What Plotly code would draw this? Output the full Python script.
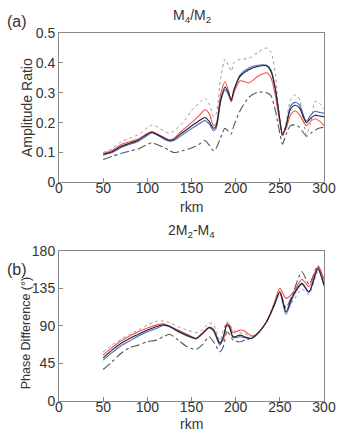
import plotly.graph_objects as go

# ---------- Data: panel (a) M4/M2 amplitude ratio ----------
rkm_a = [50, 60, 70, 80, 90, 100, 105, 110, 120, 125, 130, 140, 150, 160, 165, 170, 175, 178,
         183, 188, 192, 195, 198, 205, 215, 225, 235, 240, 245, 250, 253, 257, 262, 267, 272,
         280, 285, 290, 295, 300]
black_a = [0.094, 0.103, 0.120, 0.131, 0.142, 0.161, 0.168, 0.162, 0.147, 0.141, 0.144, 0.167,
           0.189, 0.209, 0.217, 0.204, 0.181, 0.189, 0.276, 0.319, 0.299, 0.276, 0.310, 0.355,
           0.377, 0.388, 0.390, 0.371, 0.310, 0.209, 0.159, 0.187, 0.245, 0.258, 0.250, 0.200,
           0.215, 0.225, 0.222, 0.220]
blue_a = [0.091, 0.100, 0.116, 0.127, 0.138, 0.157, 0.166, 0.160, 0.143, 0.138, 0.140, 0.160,
          0.180, 0.199, 0.207, 0.196, 0.173, 0.182, 0.270, 0.310, 0.292, 0.270, 0.305, 0.360,
          0.383, 0.392, 0.392, 0.376, 0.315, 0.212, 0.160, 0.190, 0.254, 0.268, 0.260, 0.205,
          0.225, 0.238, 0.234, 0.232]
red_a = [0.097, 0.107, 0.126, 0.136, 0.146, 0.164, 0.170, 0.164, 0.149, 0.142, 0.147, 0.175,
         0.200, 0.228, 0.243, 0.230, 0.190, 0.196, 0.295, 0.337, 0.305, 0.272, 0.300, 0.340,
         0.333, 0.355, 0.367, 0.350, 0.290, 0.200, 0.165, 0.180, 0.225, 0.239, 0.228, 0.190,
         0.205, 0.213, 0.205, 0.190]
dotted_a = [0.100, 0.113, 0.135, 0.148, 0.160, 0.183, 0.192, 0.188, 0.170, 0.165, 0.172, 0.200,
            0.240, 0.270, 0.282, 0.262, 0.220, 0.230, 0.350, 0.413, 0.390, 0.372, 0.400, 0.412,
            0.415, 0.435, 0.450, 0.435, 0.360, 0.200, 0.150, 0.200, 0.275, 0.293, 0.280, 0.160,
            0.200, 0.272, 0.265, 0.245]
dashdot_a = [0.077, 0.087, 0.097, 0.105, 0.112, 0.127, 0.133, 0.128, 0.115, 0.107, 0.100, 0.106,
             0.115, 0.130, 0.140, 0.125, 0.106, 0.115, 0.150, 0.181, 0.170, 0.162, 0.190, 0.240,
             0.285, 0.302, 0.300, 0.290, 0.240, 0.164, 0.128, 0.160, 0.190, 0.192, 0.185, 0.155,
             0.165, 0.175, 0.182, 0.185]

# ---------- Data: panel (b) 2M2-M4 phase difference ----------
rkm_b = [50, 60, 70, 80, 90, 100, 110, 118, 125, 135, 145, 155, 162, 170, 175, 182, 186, 190,
         193, 197, 205, 210, 218, 225, 235, 243, 250, 257, 265, 275, 283, 293, 300]
black_b = [51.7, 61, 69, 75, 80, 85, 89, 91.5, 89.5, 83.6, 78.8, 75, 81, 88, 85, 69, 77, 91,
           89, 77, 79, 77, 75, 81, 95, 113, 131, 107, 127, 141, 131, 159, 139]
blue_b = [49, 58, 66, 72, 78, 83, 87, 90.5, 89, 83, 78, 74.5, 80, 88, 84, 67, 75, 91,
          88, 76, 77, 76, 75, 81, 95, 113, 130, 104, 125, 140, 130, 158, 138]
red_b = [55, 64, 72, 78, 83, 87.5, 91, 92.5, 90, 85, 80, 75, 80, 88.5, 86, 70, 73, 93,
         91, 82, 85, 84, 78, 81, 95, 115, 135, 123, 130, 146, 137, 161, 146]
dotted_b = [59, 67, 74, 80, 85, 91, 95.5, 96, 94, 89, 85, 82, 85, 93.5, 91, 72, 85, 95,
            92, 85, 82, 81, 77, 81, 95, 113, 128, 110, 120, 134, 128, 155, 142]
dashdot_b = [37.8, 47, 57, 64, 67, 71, 73, 77, 80, 73, 65, 62, 67, 77, 71, 59, 65, 83,
             80, 73, 71, 73, 75, 81, 95, 115, 130, 112, 130, 155, 140, 162, 145]

x_ticks = [0, 50, 100, 150, 200, 250, 300]
y_ticks_a = [0, 0.1, 0.2, 0.3, 0.4, 0.5]
y_ticks_b = [0, 45, 90, 135, 180]

FONT = "Liberation Sans, Arial, sans-serif"
TXT = "#333333"
FRAME = "#8a8a8a"

fig = go.Figure()

def add_set(x, dotted, dashdot, blue, red, black, xa, ya):
    specs = [
        (dotted, dict(color="#999999", width=1, dash="dot")),
        (dashdot, dict(color="#555555", width=1.1, dash="dashdot")),
        (blue, dict(color="#4a62c8", width=1.1)),
        (red, dict(color="#f05050", width=1.1)),
        (black, dict(color="#222222", width=1.1)),
    ]
    for y, line in specs:
        fig.add_trace(go.Scatter(x=x, y=y, mode="lines",
                                 line=dict(shape="spline", smoothing=0.7, **line),
                                 xaxis=xa, yaxis=ya, showlegend=False, hoverinfo="skip"))

add_set(rkm_a, dotted_a, dashdot_a, blue_a, red_a, black_a, "x", "y")
add_set(rkm_b, dotted_b, dashdot_b, blue_b, red_b, black_b, "x2", "y2")

axis_common = dict(showline=True, mirror=True, linecolor=FRAME, linewidth=1,
                   ticks="inside", ticklen=4, tickcolor=FRAME, showgrid=False, zeroline=False,
                   tickfont=dict(family=FONT, size=14, color=TXT))

def ann(text, x, y, size, angle=0, xanchor="center"):
    return dict(text=text, x=x, y=y, xref="paper", yref="paper", xanchor=xanchor,
                yanchor="middle", showarrow=False, textangle=angle,
                font=dict(family=FONT, size=size, color=TXT))

fig.update_layout(
    width=348, height=435,
    margin=dict(l=59, r=13, t=33, b=34),
    paper_bgcolor="white", plot_bgcolor="white",
    font=dict(family=FONT, color=TXT),
    xaxis=dict(domain=[0, 1], range=[0, 300], tickvals=x_ticks, anchor="y",
               ticklabelstandoff=-7, **axis_common),
    yaxis=dict(domain=[0.594, 1], range=[0, 0.5], tickvals=y_ticks_a,
               ticktext=["0", "0.1", "0.2", "0.3", "0.4", "0.5"], anchor="x", **axis_common),
    xaxis2=dict(domain=[0, 1], range=[0, 300], tickvals=x_ticks, anchor="y2",
                ticklabelstandoff=-7, **axis_common),
    yaxis2=dict(domain=[0, 0.408], range=[0, 180], tickvals=y_ticks_b, anchor="x2", **axis_common),
    annotations=[
        ann("(a)", -0.205, 1.031, 16, xanchor="left"),
        ann("M<sub>4</sub>/M<sub>2</sub>", 0.5, 1.045, 14),
        ann("Amplitude Ratio", -0.123, 0.797, 14, angle=-90),
        ann("rkm", 0.5, 0.528, 14),
        ann("(b)", -0.205, 0.358, 16, xanchor="left"),
        ann("2M<sub>2</sub>-M<sub>4</sub>", 0.5, 0.463, 14),
        ann("Phase Difference (°)", -0.123, 0.185, 12.5, angle=-90),
        ann("rkm", 0.5, -0.063, 14),
    ],
)

fig.write_html("out.html")
